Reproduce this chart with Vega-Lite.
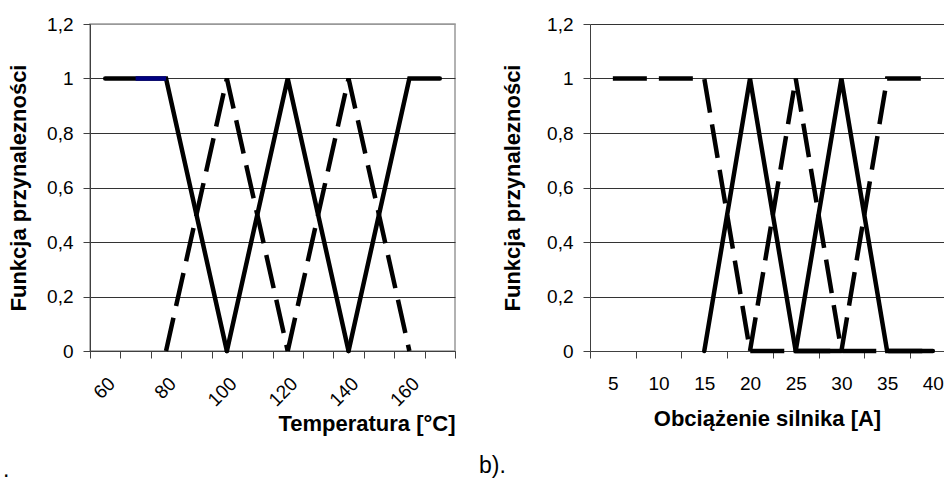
{
  "$schema": "https://vega.github.io/schema/vega-lite/v6.json",
  "padding": {"left": 2, "top": 14, "right": 0, "bottom": 0},
  "spacing": 9,
  "config": {
    "font": "Liberation Sans",
    "view": {"stroke": null},
    "axis": {
      "labelFont": "Liberation Sans",
      "labelFontSize": 19,
      "labelColor": "#000",
      "titleFont": "Liberation Sans",
      "titleFontSize": 22,
      "titleFontWeight": "bold",
      "titleColor": "#000",
      "tickColor": "#404040",
      "domainColor": "#404040",
      "tickSize": 7,
      "labelOverlap": false,
      "labelFlush": false
    },
    "title": {"font": "Liberation Sans", "fontSize": 23, "fontWeight": "normal", "color": "#000"}
  },
  "datasets": {
    "temp": [
      {"series": "A", "t": 60, "mu": 1},
      {"series": "A", "t": 70, "mu": 1},
      {"series": "A", "t": 80, "mu": 1},
      {"series": "A", "t": 100, "mu": 0},
      {"series": "A2", "t": 70, "mu": 1},
      {"series": "A2", "t": 80, "mu": 1},
      {"series": "B", "t": 80, "mu": 0},
      {"series": "B", "t": 100, "mu": 1},
      {"series": "B", "t": 120, "mu": 0},
      {"series": "C", "t": 100, "mu": 0},
      {"series": "C", "t": 120, "mu": 1},
      {"series": "C", "t": 140, "mu": 0},
      {"series": "D", "t": 120, "mu": 0},
      {"series": "D", "t": 140, "mu": 1},
      {"series": "D", "t": 160, "mu": 0},
      {"series": "E", "t": 140, "mu": 0},
      {"series": "E", "t": 160, "mu": 1},
      {"series": "E", "t": 170, "mu": 1}
    ],
    "load": [
      {"series": "R1", "i": 5, "mu": 1},
      {"series": "R1", "i": 10, "mu": 1},
      {"series": "R1", "i": 15, "mu": 1},
      {"series": "R1", "i": 20, "mu": 0},
      {"series": "R1", "i": 25, "mu": 0},
      {"series": "R1", "i": 30, "mu": 0},
      {"series": "R1", "i": 35, "mu": 0},
      {"series": "R1", "i": 40, "mu": 0},
      {"series": "R2", "i": 15, "mu": 0},
      {"series": "R2", "i": 20, "mu": 1},
      {"series": "R2", "i": 25, "mu": 0},
      {"series": "R2", "i": 30, "mu": 0},
      {"series": "R3", "i": 20, "mu": 0},
      {"series": "R3", "i": 25, "mu": 1},
      {"series": "R3", "i": 30, "mu": 0},
      {"series": "R4", "i": 25, "mu": 0},
      {"series": "R4", "i": 30, "mu": 1},
      {"series": "R4", "i": 35, "mu": 0},
      {"series": "R4", "i": 40, "mu": 0},
      {"series": "R5", "i": 30, "mu": 0},
      {"series": "R5", "i": 35, "mu": 1},
      {"series": "R5", "i": 40, "mu": 1}
    ]
  },
  "hconcat": [
    {
      "width": 365,
      "height": 327,
      "view": {"stroke": "#999", "strokeWidth": 1.5},
      "title": {"text": ".", "orient": "bottom", "anchor": "start", "frame": "group", "dx": -87, "offset": 24},
      "data": {"name": "temp"},
      "encoding": {
        "x": {
          "field": "t", "type": "quantitative",
          "scale": {"domain": [55, 175], "nice": false, "zero": false},
          "axis": {
            "values": [55, 60, 65, 70, 75, 80, 85, 90, 95, 100, 105, 110, 115, 120, 125, 130, 135, 140, 145, 150, 155, 160, 165, 170, 175],
            "labelExpr": "(datum.value % 20 === 0 && datum.value <= 160) ? datum.label : ''",
            "tickOpacity": {"condition": {"test": "datum.value % 10 === 5", "value": 1}, "value": 0},
            "labelAngle": -45,
            "labelPadding": 16,
            "grid": false,
            "title": "Temperatura [°C]",
            "titleAnchor": "end",
            "titlePadding": 4
          }
        },
        "y": {
          "field": "mu", "type": "quantitative",
          "scale": {"domain": [0, 1.2], "nice": false},
          "axis": {
            "values": [0, 0.2, 0.4, 0.6, 0.8, 1, 1.2],
            "format": "~g",
            "labelExpr": "replace(datum.label, '.', ',')",
            "labelPadding": 10,
            "grid": true,
            "gridColor": {"condition": {"test": "datum.value >= 1.1", "value": "#999"}, "value": "#333"},
            "title": "Funkcja przynalezności",
            "titlePadding": 16
          }
        },
        "detail": {"field": "series"}
      },
      "layer": [
        {
          "transform": [{"filter": "indexof(['A','C','E'], datum.series) >= 0"}],
          "mark": {"type": "line", "color": "#000", "strokeWidth": 4.5, "strokeCap": "round"}
        },
        {
          "transform": [{"filter": "datum.series === 'A2'"}],
          "mark": {"type": "line", "color": "#000080", "strokeWidth": 4.5, "strokeCap": "butt"}
        },
        {
          "transform": [{"filter": "indexof(['B','D'], datum.series) >= 0"}],
          "mark": {"type": "line", "color": "#000", "strokeWidth": 4.5, "strokeCap": "butt", "strokeDash": [34, 12]}
        }
      ]
    },
    {
      "width": 354,
      "height": 327,
      "title": {"text": "b).", "orient": "bottom", "anchor": "start", "frame": "group", "dx": -111, "offset": 26},
      "data": {"name": "load"},
      "encoding": {
        "x": {
          "field": "i", "type": "quantitative",
          "scale": {"domain": [2.5, 41.22], "nice": false, "zero": false},
          "axis": {
            "values": [2.5, 5, 7.5, 10, 12.5, 15, 17.5, 20, 22.5, 25, 27.5, 30, 32.5, 35, 37.5, 40],
            "labelExpr": "datum.value % 5 === 0 ? datum.label : ''",
            "tickOpacity": {"condition": {"test": "datum.value % 5 === 2.5", "value": 1}, "value": 0},
            "labelAngle": 0,
            "labelPadding": 16,
            "grid": false,
            "title": "Obciążenie silnika [A]",
            "titlePadding": 15
          }
        },
        "y": {
          "field": "mu", "type": "quantitative",
          "scale": {"domain": [0, 1.2], "nice": false},
          "axis": {
            "values": [0, 0.2, 0.4, 0.6, 0.8, 1, 1.2],
            "format": "~g",
            "labelExpr": "replace(datum.label, '.', ',')",
            "labelPadding": 10,
            "grid": true,
            "gridColor": "#333",
            "title": "Funkcja przynalezności",
            "titlePadding": 22
          }
        },
        "detail": {"field": "series"}
      },
      "layer": [
        {
          "transform": [{"filter": "indexof(['R2','R4'], datum.series) >= 0"}],
          "mark": {"type": "line", "color": "#000", "strokeWidth": 4.5, "strokeCap": "round"}
        },
        {
          "transform": [{"filter": "indexof(['R1','R3','R5'], datum.series) >= 0"}],
          "mark": {"type": "line", "color": "#000", "strokeWidth": 4.5, "strokeCap": "butt", "strokeDash": [34, 12]}
        }
      ]
    }
  ]
}
